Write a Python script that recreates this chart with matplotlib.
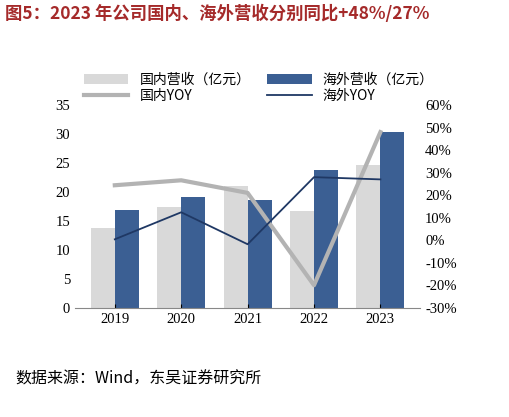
import numpy as np
import matplotlib
matplotlib.use("Agg")
import matplotlib.pyplot as plt
from matplotlib.ticker import FuncFormatter

plt.rcParams['font.family'] = ['Liberation Serif', 'Noto Sans CJK SC', 'DejaVu Sans']

years = ["2019", "2020", "2021", "2022", "2023"]
domestic = [13.8, 17.4, 21.0, 16.7, 24.7]
overseas = [16.9, 19.1, 18.6, 23.8, 30.3]
domestic_yoy = [24.4, 26.6, 21.0, -20.0, 48.0]
overseas_yoy = [0.4, 12.4, -1.8, 28.0, 27.0]

fig = plt.figure(figsize=(5.1, 4.17), dpi=100)
ax = fig.add_axes([0.147, 0.262, 0.677, 0.486])
x = np.arange(len(years))
w = 0.36
b1 = ax.bar(x - w / 2, domestic, w, color="#d9d9d9", label="国内营收（亿元）")
b2 = ax.bar(x + w / 2, overseas, w, color="#3b5f93", label="海外营收（亿元）")
ax.set_ylim(0, 35)
ax.set_yticks(range(0, 36, 5))
ax.set_xticks(x)
ax.set_xticklabels(years)
ax.set_xlim(-0.6, 4.6)
ax2 = ax.twinx()
l1, = ax2.plot(x, domestic_yoy, color="#b3b3b3", lw=3, label="国内YOY")
l2, = ax2.plot(x, overseas_yoy, color="#1f3864", lw=1.3, label="海外YOY")
ax2.set_ylim(-30, 60)
ax2.set_yticks(range(-30, 61, 10))
ax2.yaxis.set_major_formatter(FuncFormatter(lambda v, p: f"{v:.0f}%"))
for a in (ax, ax2):
    for s in ("top", "right", "left"):
        a.spines[s].set_visible(False)
    a.tick_params(labelsize=10.5, length=0)
ax.spines["bottom"].set_color("#888888")
ax.tick_params(axis="x", length=3, direction="in")
ax2.spines["bottom"].set_visible(False)

# ncol=2 fills by column: order so rows read 营收 / YOY
fig.legend(handles=[b1, l1, b2, l2], loc="upper left", bbox_to_anchor=(0.14, 0.855),
           ncol=2, frameon=False, fontsize=10.5, handlelength=3.2,
           columnspacing=1.2, labelspacing=0.15, prop={'family': ['Noto Sans CJK SC']})

fig.text(0.01, 0.955, "图5：2023 年公司国内、海外营收分别同比+48%/27%", fontsize=12.5,
         fontweight="bold", color="#a52a2a", family=['Noto Sans CJK SC'])
fig.text(0.03, 0.08, "数据来源：Wind，东吴证券研究所", fontsize=11.5,
         family=['Noto Sans CJK SC'])
fig.savefig("out.png", dpi=100)
